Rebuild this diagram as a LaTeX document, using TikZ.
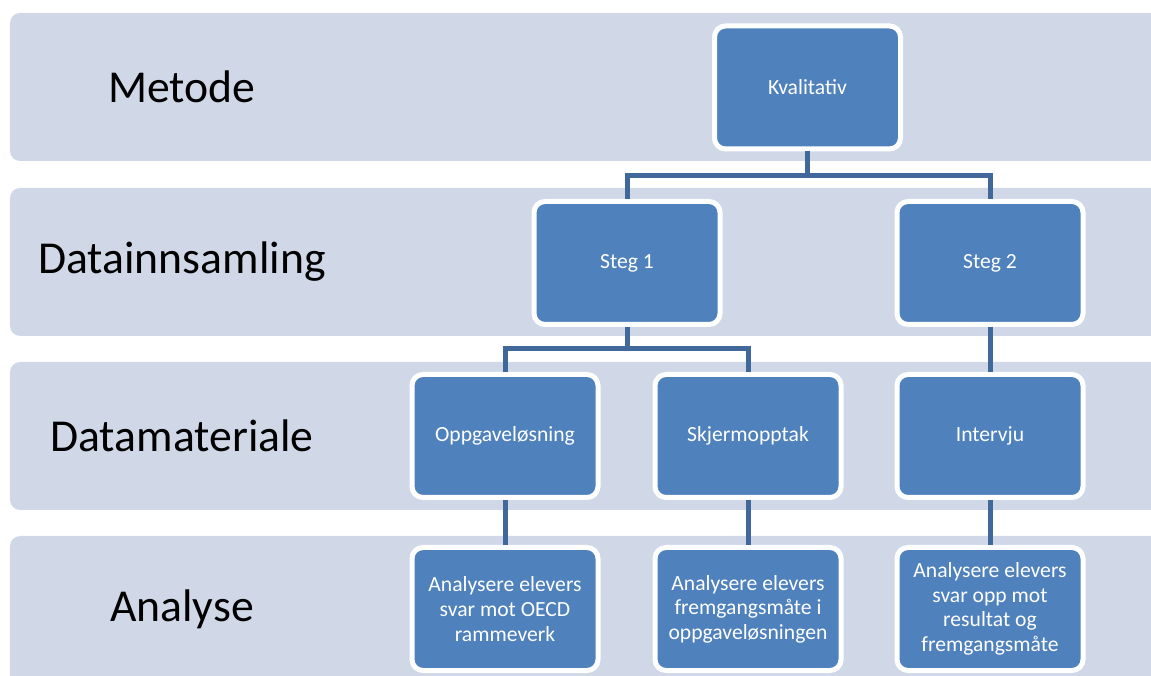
\documentclass[tikz,border=0pt]{standalone}
\usepackage{fontspec}
\setmainfont{Carlito}
\usetikzlibrary{positioning}

\definecolor{bandgray}{RGB}{208,216,232}
\definecolor{boxblue}{RGB}{79,129,189}
\definecolor{linkblue}{RGB}{64,104,154}

\begin{document}
\begin{tikzpicture}[
  band/.style={fill=bandgray, rounded corners=0.2cm},
  rowlabel/.style={font=\fontsize{26}{31}\selectfont},
  box/.style={draw=white, line width=0.1cm, fill=boxblue, rounded corners=0.22cm,
    minimum width=3.72cm, minimum height=2.46cm, align=center, text=white,
    font=\fontsize{12.3}{14}\selectfont, inner sep=2pt},
  link/.style={draw=linkblue, line width=0.1cm}
]
\clip (0,0) rectangle (23.02,13.5);

% Bands
\fill[band] (0.2,10.28) rectangle (23.5,13.24);
\fill[band] (0.2,6.78) rectangle (23.5,9.74);
\fill[band] (0.2,3.30) rectangle (23.5,6.26);
\fill[band] (0.2,-0.5) rectangle (23.5,2.78);

% Row labels
\node[rowlabel] (metode) at (3.64,11.76) {Metode};
\node[rowlabel] (innsamling) at (3.64,8.26) {Datainnsamling};
\node[rowlabel] (materiale) at (3.64,4.78) {Datamateriale};
\node[rowlabel] (analyse) at (3.64,1.32) {Analyse};

% Boxes
\node[box] (kval) at (16.15,11.75) {Kvalitativ};
\node[box] (steg1) at (12.54,8.24) {Steg 1};
\node[box] (steg2) at (19.80,8.24) {Steg 2};
\node[box] (opp) at (10.10,4.78) {Oppgaveløsning};
\node[box, right=1.04cm of opp] (skjerm) {Skjermopptak};
\node[box] (intervju) at (19.80,4.78) {Intervju};
\node[box, below=0.9cm of opp] (an1) {Analysere elevers\\svar mot OECD\\rammeverk};
\node[box, below=0.9cm of skjerm] (an2) {Analysere elevers\\fremgangsmåte i\\oppgaveløsningen};
\node[box, below=0.9cm of intervju] (an3) {Analysere elevers\\svar opp mot\\resultat og\\fremgangsmåte};

% Connectors
\coordinate (split1) at (0,9.98);
\coordinate (split2) at (0,6.52);
\draw[link] (kval.south) -- (kval.south |- split1) -| (steg1.north);
\draw[link] (kval.south |- split1) -| (steg2.north);
\draw[link] (steg1.south) -- (steg1.south |- split2) -| (opp.north);
\draw[link] (steg1.south |- split2) -| (skjerm.north);
\draw[link] (steg2) -- (intervju);
\draw[link] (opp) -- (an1);
\draw[link] (skjerm) -- (an2);
\draw[link] (intervju) -- (an3);
\end{tikzpicture}
\end{document}
